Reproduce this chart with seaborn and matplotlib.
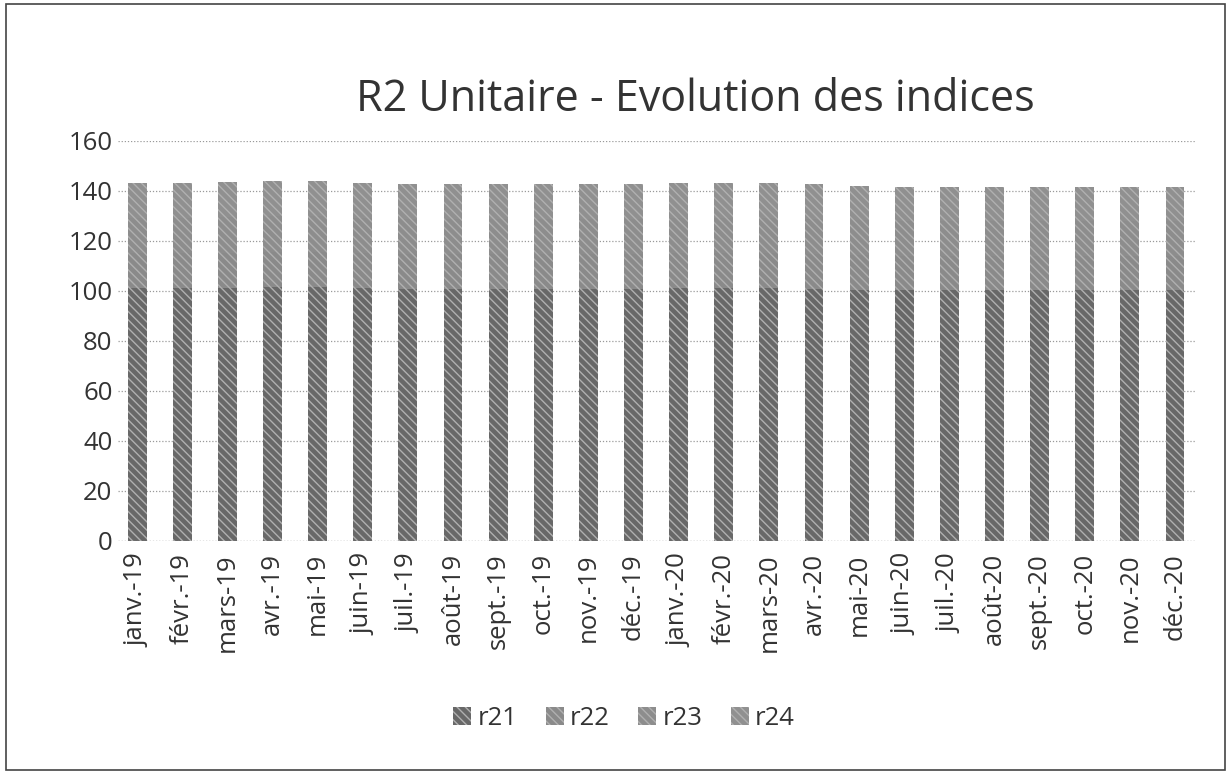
import numpy as np
import pandas as pd
import matplotlib.pyplot as plt
import seaborn as sns
from matplotlib.patches import Rectangle

# Data
months = ["janv.-19", "févr.-19", "mars-19", "avr.-19", "mai-19", "juin-19",
          "juil.-19", "août-19", "sept.-19", "oct.-19", "nov.-19", "déc.-19",
          "janv.-20", "févr.-20", "mars-20", "avr.-20", "mai-20", "juin-20",
          "juil.-20", "août-20", "sept.-20", "oct.-20", "nov.-20", "déc.-20"]
r21 = [101.0, 101.0, 101.2, 101.4, 101.4, 101.0, 100.8, 100.8, 100.8, 100.8, 100.8, 100.8,
       101.0, 101.0, 101.0, 100.8, 100.4, 100.2, 100.2, 100.2, 100.2, 100.2, 100.2, 100.2]
r22 = [14.0, 14.0, 14.1, 14.2, 14.2, 14.0, 14.0, 14.0, 14.0, 14.0, 14.0, 14.0,
       14.0, 14.0, 14.0, 14.0, 13.9, 13.8, 13.8, 13.8, 13.8, 13.8, 13.8, 13.8]
r23 = [14.1, 14.1, 14.2, 14.2, 14.2, 14.1, 14.0, 14.0, 14.0, 14.0, 14.0, 14.0,
       14.1, 14.1, 14.1, 14.0, 13.9, 13.8, 13.8, 13.8, 13.8, 13.8, 13.8, 13.9]
r24 = [14.1, 14.1, 14.1, 14.2, 14.2, 14.1, 14.0, 14.0, 14.0, 14.0, 14.0, 14.0,
       14.1, 14.1, 14.1, 14.0, 13.8, 13.8, 13.8, 13.8, 13.8, 13.8, 13.8, 13.7]
series = ["r21", "r22", "r23", "r24"]
colors = ["#686868", "#8a8a8a", "#8d8d8d", "#909090"]

df = pd.DataFrame({"mois": months, "r21": r21, "r22": r22, "r23": r23, "r24": r24})
cum = df[series].cumsum(axis=1)

sns.set_style("white")
plt.rcParams["font.family"] = ["Open Sans", "DejaVu Sans"]

fig = plt.figure(figsize=(12.31, 7.78), dpi=100, facecolor="white")
ax = fig.add_axes([0.096, 0.305, 0.875, 0.514])

# stacked bars: draw cumulative totals from top series down
for name, col in reversed(list(zip(series, colors))):
    sns.barplot(x=df["mois"], y=cum[name], color=col, width=0.42, ax=ax,
                saturation=1, hatch="\\\\\\\\", edgecolor="#b0b0b0", linewidth=0)

ax.set_ylim(0, 160)
ax.set_xlim(-0.42, len(months) - 0.55)
ax.set_yticks(range(0, 161, 20))
ax.yaxis.grid(True, linestyle=(0, (1, 1.5)), color="#9a9a9a", linewidth=0.9)
ax.set_axisbelow(True)
for s in ax.spines.values():
    s.set_visible(False)
ax.axhline(0, color="#9a9a9a", linewidth=0.9, linestyle=(0, (1, 1.5)))
ax.tick_params(axis="both", length=0, labelsize=18.5, colors="#333333")
ax.tick_params(axis="y", pad=4)
ax.tick_params(axis="x", pad=9)
ax.set_xticks(range(len(months)))
ax.set_xticklabels(months, rotation=90)
ax.set_xlabel("")
ax.set_ylabel("")

fig.suptitle("R2 Unitaire - Evolution des indices", x=0.565, y=0.9,
             fontsize=31, color="#333333")

handles = [Rectangle((0, 0), 1, 1, facecolor=c, hatch="\\\\\\\\", edgecolor="#b0b0b0",
                     linewidth=0) for c in colors]
fig.legend(handles, series, loc="center", bbox_to_anchor=(0.507, 0.077), ncol=4,
           frameon=False, fontsize=18.5, handlelength=0.7, handleheight=0.7,
           handletextpad=0.25, columnspacing=1.1, labelcolor="#333333")

# chart area frame
fig.patches.append(Rectangle((0.005, 0.01), 0.99, 0.985, transform=fig.transFigure,
                             fill=False, edgecolor="#444444", linewidth=1.2))

plt.savefig("out.png", dpi=100)
